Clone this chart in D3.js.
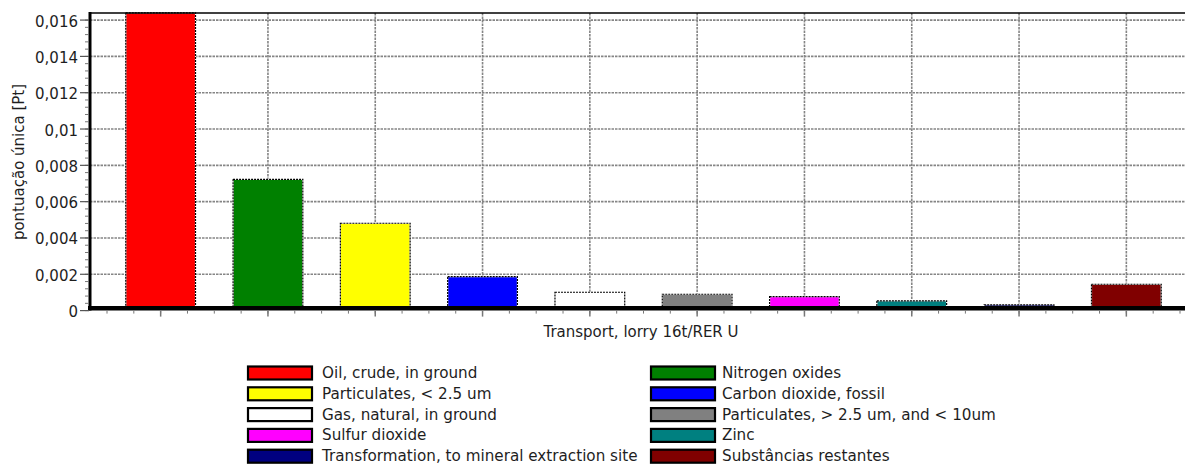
<!DOCTYPE html>
<html>
<head>
<meta charset="utf-8">
<script src="https://cdn.jsdelivr.net/npm/d3@7"></script>
<style>
  body { margin: 0; background: #fff; }
  svg text { font-family: "DejaVu Sans", sans-serif; fill: #1e1e1e; }
</style>
</head>
<body>
<script>
// categories (bar order = legend order)
const categories = [
  "Oil, crude, in ground",
  "Nitrogen oxides",
  "Particulates, < 2.5 um",
  "Carbon dioxide, fossil",
  "Gas, natural, in ground",
  "Particulates, > 2.5 um, and < 10um",
  "Sulfur dioxide",
  "Zinc",
  "Transformation, to mineral extraction site",
  "Substâncias restantes"
];
// single score per substance [Pt]
const values = [0.0164, 0.00723, 0.00481, 0.00187, 0.00101, 0.00090, 0.00077, 0.00054, 0.00032, 0.00145];
const colors = ["#ff0000", "#008000", "#ffff00", "#0000ff", "#ffffff", "#808080", "#ff00ff", "#008080", "#000080", "#800000"];
const yTicks = [0, 0.002, 0.004, 0.006, 0.008, 0.01, 0.012, 0.014, 0.016];
const yTickLabels = ["0", "0,002", "0,004", "0,006", "0,008", "0,01", "0,012", "0,014", "0,016"];
const yMax = 0.01639;
const xTitle = "Transport, lorry 16t/RER U";
const yTitle = "pontuação única [Pt]";

let svgWidth = 1185;
let svgHeight = 464;

let plot = { left: 90, right: 1185, top: 13, bottom: 310.6 };

let svg = d3.select("body")
  .append("svg")
  .attr("width", svgWidth)
  .attr("height", svgHeight);

// scales
let xBand = d3.scaleBand()
  .domain(categories)
  .range([107, 1180])
  .paddingInner(0.35)
  .paddingOuter(0.175);

let yLinearScale = d3.scaleLinear()
  .domain([0, yMax])
  .range([plot.bottom, plot.top]);

let gridGroup = svg.append("g");

// horizontal grid
gridGroup.selectAll(".hgrid")
  .data(yTicks.filter(d => d > 0))
  .enter()
  .append("line")
  .attr("x1", plot.left)
  .attr("x2", plot.right)
  .attr("y1", d => yLinearScale(d))
  .attr("y2", d => yLinearScale(d))
  .attr("stroke", "#858585")
  .attr("stroke-width", 1.6)
  .attr("stroke-dasharray", "2.5,1");

// vertical grid at category centers
gridGroup.selectAll(".vgrid")
  .data(categories)
  .enter()
  .append("line")
  .attr("x1", d => xBand(d) + xBand.bandwidth() / 2)
  .attr("x2", d => xBand(d) + xBand.bandwidth() / 2)
  .attr("y1", plot.top)
  .attr("y2", plot.bottom)
  .attr("stroke", "#858585")
  .attr("stroke-width", 1.6)
  .attr("stroke-dasharray", "2.5,1");

// bars
let barData = categories.map((c, i) => ({ name: c, value: values[i], color: colors[i] }));
let barBase = plot.bottom - 2;

let barGroup = svg.append("g");
barGroup.selectAll(".bar")
  .data(barData)
  .enter()
  .append("rect")
  .attr("x", d => xBand(d.name))
  .attr("y", d => yLinearScale(d.value))
  .attr("width", xBand.bandwidth())
  .attr("height", d => barBase - yLinearScale(d.value))
  .attr("fill", d => d.color)
  .attr("stroke", "#fff")
  .attr("stroke-width", 1.2);

barGroup.selectAll(".barEdge")
  .data(barData)
  .enter()
  .append("rect")
  .attr("x", d => xBand(d.name))
  .attr("y", d => yLinearScale(d.value))
  .attr("width", xBand.bandwidth())
  .attr("height", d => barBase - yLinearScale(d.value))
  .attr("fill", "none")
  .attr("stroke", "#000")
  .attr("stroke-width", 1.2)
  .attr("stroke-dasharray", "2,1");

// frame: top line, left axis, bottom axis
svg.append("line")
  .attr("x1", plot.left).attr("x2", plot.right)
  .attr("y1", plot.top).attr("y2", plot.top)
  .attr("stroke", "#000").attr("stroke-width", 1.6);

svg.append("line")
  .attr("x1", plot.left).attr("x2", plot.left)
  .attr("y1", plot.top - 1).attr("y2", plot.bottom)
  .attr("stroke", "#000").attr("stroke-width", 3);

svg.append("line")
  .attr("x1", plot.left - 2).attr("x2", plot.right)
  .attr("y1", plot.bottom - 2.4).attr("y2", plot.bottom - 2.4)
  .attr("stroke", "#000").attr("stroke-width", 4.6);

// y axis ticks, minor ticks and labels
let minorY = d3.range(0, 41).map(i => i * 0.0004).filter(v => v <= yMax);
svg.selectAll(".yminor")
  .data(minorY)
  .enter()
  .append("line")
  .attr("x1", plot.left - 5)
  .attr("x2", plot.left - 1)
  .attr("y1", d => yLinearScale(d))
  .attr("y2", d => yLinearScale(d))
  .attr("stroke", "#777")
  .attr("stroke-width", 1);

svg.selectAll(".ymajor")
  .data(yTicks)
  .enter()
  .append("line")
  .attr("x1", plot.left - 10)
  .attr("x2", plot.left - 1)
  .attr("y1", d => yLinearScale(d))
  .attr("y2", d => yLinearScale(d))
  .attr("stroke", "#555")
  .attr("stroke-width", 1.2);

svg.selectAll(".ylabel")
  .data(yTicks)
  .enter()
  .append("text")
  .attr("x", plot.left - 12)
  .attr("y", d => yLinearScale(d) + 1.5)
  .attr("text-anchor", "end")
  .attr("dominant-baseline", "central")
  .style("font-size", "15px")
  .text((d, i) => yTickLabels[i]);

// x axis ticks (major at centers, minor every quarter step)
let step = xBand.step();
let xr = xBand.range();
let minorX = d3.range(xr[0], xr[1] + 1, step / 4);
svg.selectAll(".xminor")
  .data(minorX)
  .enter()
  .append("line")
  .attr("x1", d => d).attr("x2", d => d)
  .attr("y1", plot.bottom).attr("y2", plot.bottom + 3)
  .attr("stroke", "#777").attr("stroke-width", 1);

svg.selectAll(".xmajor")
  .data(categories)
  .enter()
  .append("line")
  .attr("x1", d => xBand(d) + xBand.bandwidth() / 2)
  .attr("x2", d => xBand(d) + xBand.bandwidth() / 2)
  .attr("y1", plot.bottom)
  .attr("y2", plot.bottom + 6)
  .attr("stroke", "#777").attr("stroke-width", 1.5);

// axis titles
svg.append("text")
  .attr("x", 641)
  .attr("y", 332)
  .attr("text-anchor", "middle")
  .attr("dominant-baseline", "central")
  .style("font-size", "15px")
  .text(xTitle);

svg.append("text")
  .attr("transform", "translate(19, 162) rotate(-90)")
  .attr("text-anchor", "middle")
  .attr("dominant-baseline", "central")
  .style("font-size", "15px")
  .text(yTitle);

// legend, two columns, row-major
let legendCols = [{ swatch: 248, text: 322 }, { swatch: 651, text: 722 }];
let legend = svg.selectAll(".legendItem")
  .data(barData)
  .enter()
  .append("g")
  .attr("transform", (d, i) => `translate(0, ${373 + Math.floor(i / 2) * 20.8})`);

legend.append("rect")
  .attr("x", (d, i) => legendCols[i % 2].swatch)
  .attr("y", -6.5)
  .attr("width", 64)
  .attr("height", 13)
  .attr("fill", d => d.color)
  .attr("stroke", "#000")
  .attr("stroke-width", 2.2);

legend.append("text")
  .attr("x", (d, i) => legendCols[i % 2].text)
  .attr("y", 0)
  .attr("dominant-baseline", "central")
  .style("font-size", "15.2px")
  .text(d => d.name);
</script>
</body>
</html>
